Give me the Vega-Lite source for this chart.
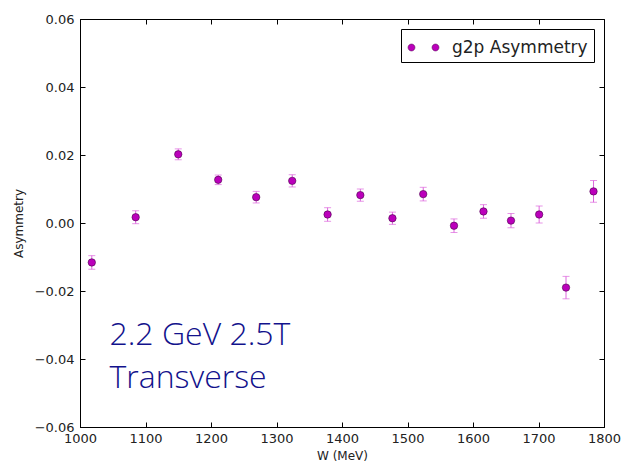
{
  "$schema": "https://vega.github.io/schema/vega-lite/v6.json",
  "width": 524,
  "height": 408,
  "autosize": {"type": "none"},
  "padding": {"left": 80, "top": 19, "right": 19, "bottom": 40},
  "background": "white",
  "config": {
    "view": {"stroke": "#000000", "strokeWidth": 1},
    "font": "DejaVu Sans",
    "axis": {
      "domainColor": "#000000",
      "tickColor": "#000000",
      "tickSize": -5,
      "labelColor": "#222222",
      "labelFont": "DejaVu Sans",
      "labelFontSize": 13,
      "labelFlush": false,
      "labelOverlap": false,
      "titleFont": "DejaVu Sans",
      "titleFontSize": 12,
      "titleFontWeight": "normal",
      "titleColor": "#222222",
      "grid": false
    }
  },
  "datasets": {
    "asym": [
      {"W": 1018, "a": -0.0116, "err": 0.0020, "series": "g2p Asymmetry"},
      {"W": 1085, "a": 0.0017, "err": 0.0019, "series": "g2p Asymmetry"},
      {"W": 1150, "a": 0.0202, "err": 0.0016, "series": "g2p Asymmetry"},
      {"W": 1211, "a": 0.0127, "err": 0.0014, "series": "g2p Asymmetry"},
      {"W": 1269, "a": 0.0076, "err": 0.0017, "series": "g2p Asymmetry"},
      {"W": 1324, "a": 0.0124, "err": 0.0018, "series": "g2p Asymmetry"},
      {"W": 1378, "a": 0.0025, "err": 0.0020, "series": "g2p Asymmetry"},
      {"W": 1428, "a": 0.0082, "err": 0.0018, "series": "g2p Asymmetry"},
      {"W": 1477, "a": 0.0014, "err": 0.0018, "series": "g2p Asymmetry"},
      {"W": 1524, "a": 0.0085, "err": 0.0020, "series": "g2p Asymmetry"},
      {"W": 1571, "a": -0.0008, "err": 0.0020, "series": "g2p Asymmetry"},
      {"W": 1616, "a": 0.0034, "err": 0.0020, "series": "g2p Asymmetry"},
      {"W": 1658, "a": 0.0007, "err": 0.0021, "series": "g2p Asymmetry"},
      {"W": 1701, "a": 0.0025, "err": 0.0025, "series": "g2p Asymmetry"},
      {"W": 1742, "a": -0.0190, "err": 0.0033, "series": "g2p Asymmetry"},
      {"W": 1784, "a": 0.0093, "err": 0.0032, "series": "g2p Asymmetry"}
    ],
    "note": [
      {"W": 1045, "a": -0.0360, "text": "2.2 GeV 2.5T"},
      {"W": 1045, "a": -0.0485, "text": "Transverse"}
    ]
  },
  "layer": [
    {
      "data": {"name": "asym"},
      "mark": {"type": "errorbar", "ticks": {"size": 7, "thickness": 1, "color": "#dd66dd"}, "rule": {"color": "#dd66dd", "strokeWidth": 1}},
      "encoding": {
        "x": {
          "field": "W", "type": "quantitative",
          "scale": {"domain": [1000, 1800], "nice": false, "zero": false},
          "axis": {"orient": "top", "labels": false, "title": null, "values": [1000, 1100, 1200, 1300, 1400, 1500, 1600, 1700, 1800], "domain": false}
        },
        "y": {
          "field": "a", "type": "quantitative",
          "scale": {"domain": [-0.06, 0.06], "nice": false, "zero": false},
          "axis": {"orient": "right", "labels": false, "title": null, "values": [-0.06, -0.04, -0.02, 0, 0.02, 0.04, 0.06], "domain": false}
        },
        "yError": {"field": "err"}
      }
    },
    {
      "data": {"name": "asym"},
      "mark": {"type": "point", "filled": true, "size": 55, "opacity": 1, "stroke": "#4a004a", "strokeWidth": 0.6},
      "encoding": {
        "x": {
          "field": "W", "type": "quantitative",
          "axis": {"orient": "bottom", "title": "W (MeV)", "values": [1000, 1100, 1200, 1300, 1400, 1500, 1600, 1700, 1800], "format": "d", "labelPadding": 10, "titlePadding": 5}
        },
        "y": {
          "field": "a", "type": "quantitative",
          "axis": {"orient": "left", "title": "Asymmetry", "values": [-0.06, -0.04, -0.02, 0, 0.02, 0.04, 0.06], "format": ".2f", "labelPadding": 11, "titlePadding": 9}
        },
        "color": {
          "field": "series", "type": "nominal",
          "scale": {"range": ["#bb00bb"]},
          "legend": {
            "title": null,
            "orient": "top-right",
            "offset": 10,
            "padding": 6,
            "strokeColor": "#000000",
            "fillColor": "#ffffff",
            "cornerRadius": 0,
            "labelFont": "DejaVu Sans",
            "labelFontSize": 17,
            "labelColor": "#222222",
            "symbolType": "M-1.29,0a0.29,0.29 0 1,0 0.58,0a0.29,0.29 0 1,0 -0.58,0M0.71,0a0.29,0.29 0 1,0 0.58,0a0.29,0.29 0 1,0 -0.58,0",
            "symbolSize": 576,
            "symbolStrokeColor": "#4a004a",
            "symbolStrokeWidth": 0.5,
            "symbolOffset": 4,
            "labelOffset": 16
          }
        }
      }
    },
    {
      "data": {"name": "note"},
      "mark": {"type": "text", "align": "left", "baseline": "alphabetic", "font": "Open Sans", "fontSize": 32, "fontWeight": 350, "color": "#12128c"},
      "encoding": {
        "x": {"field": "W", "type": "quantitative", "axis": null},
        "y": {"field": "a", "type": "quantitative", "axis": null},
        "text": {"field": "text"}
      }
    }
  ],
  "resolve": {"axis": {"x": "independent", "y": "independent"}}
}
